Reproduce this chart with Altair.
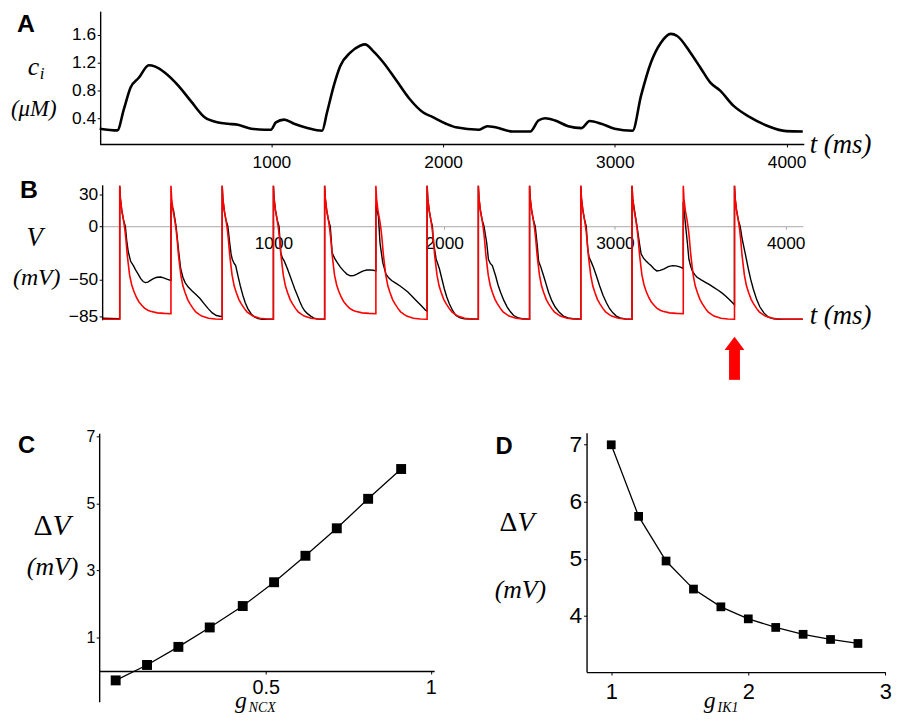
import altair as alt
import pandas as pd

W, H = 892, 709

# ---------------- panel A : calcium transient ----------------
A_T = [0, 103, 141, 180, 228, 286, 324, 382, 459, 536, 613, 690, 747, 805, 882, 959, 997,
       1026, 1074, 1132, 1209, 1295, 1324, 1363, 1401, 1459, 1516, 1545, 1594, 1652, 1728,
       1805, 1882, 1940, 2017, 2074, 2209, 2257, 2305, 2402, 2507, 2555, 2594, 2652, 2728,
       2806, 2853, 2921, 2998, 3103, 3152, 3210, 3267, 3325, 3363, 3440, 3498, 3556, 3613,
       3690, 3786, 3882, 3998, 4094]
A_C = [0.25, 0.225, 0.53, 0.84, 0.98, 1.16, 1.14, 1.05, 0.865, 0.63, 0.41, 0.34, 0.32, 0.305,
       0.25, 0.235, 0.235, 0.34, 0.38, 0.32, 0.26, 0.22, 0.485, 0.865, 1.15, 1.34, 1.44, 1.46,
       1.36, 1.2, 0.94, 0.675, 0.485, 0.415, 0.32, 0.27, 0.235, 0.285, 0.27, 0.21, 0.21, 0.367,
       0.4, 0.367, 0.285, 0.258, 0.36, 0.32, 0.25, 0.22, 0.72, 1.2, 1.48, 1.61, 1.58, 1.34,
       1.125, 0.91, 0.795, 0.58, 0.415, 0.296, 0.215, 0.21]
A_XTICKS = [1000, 2000, 3000, 4000]
A_YTICKS = [0.4, 0.8, 1.2, 1.6]

# ---------------- panel B : voltage traces ----------------
B_ONSETS = [100, 400, 700, 1000, 1300, 1600, 1900, 2200, 2500, 2800, 3100, 3400, 3700]
RED_KIND = ["part", "full", "full", "full", "part", "full", "full", "full", "full", "full",
            "part", "full", "full"]
RED_DT = [0, 4, 12, 22, 30, 36, 44, 52, 58, 70, 82, 98, 112, 130, 145, 165, 180, 220, 260, 300]
RED_FULL = [38, 26, 15, 6, -3, -12, -27, -38, -46, -56, -62, -69, -73, -77.5, -80.5, -83,
            -84.5, -86.5, -87.3, -87.5]
RED_PART = [38, 26, 15, 6, -3, -12, -27, -38, -46, -55, -61, -67, -71, -74.5, -77, -79,
            -80, -81.5, -82, -82.3]
RED_REST = -87.5
RED_END_T = 4100

BLACK_T = [0, 100,
           100, 104, 112, 122, 133, 142, 150, 164, 180, 193, 208, 222, 237, 251, 265, 280, 300, 318, 340, 357, 380, 400,
           400, 415, 430, 444, 457, 470, 483, 500, 521, 545, 570, 595, 618, 642, 666, 700,
           700, 704, 712, 722, 733, 744, 752, 759, 770, 779, 792, 806, 821, 835, 850, 870, 889, 910, 934, 1000,
           1000, 1004, 1012, 1022, 1033, 1043, 1053, 1063, 1082, 1096, 1111, 1125, 1140, 1155, 1169, 1183, 1198, 1218, 1237, 1260, 1300,
           1300, 1304, 1312, 1322, 1333, 1344, 1358, 1373, 1392, 1411, 1430, 1450, 1470, 1489, 1508, 1527, 1547, 1566, 1585, 1600,
           1600, 1615, 1624, 1640, 1659, 1675, 1692, 1716, 1740, 1765, 1789, 1813, 1837, 1865, 1891, 1900,
           1900, 1904, 1912, 1922, 1931, 1937, 1953, 1972, 1982, 2001, 2015, 2030, 2050, 2069, 2090, 2117, 2200,
           2200, 2204, 2212, 2222, 2233, 2249, 2259, 2270, 2282, 2301, 2315, 2330, 2350, 2369, 2388, 2407, 2430, 2456, 2500,
           2500, 2504, 2512, 2522, 2533, 2545, 2553, 2565, 2582, 2596, 2611, 2630, 2650, 2674, 2698, 2725, 2756, 2800,
           2800, 2804, 2812, 2822, 2832, 2840, 2848, 2862, 2875, 2891, 2910, 2930, 2950, 2969, 2988, 3008, 3030, 3060, 3100,
           3100, 3104, 3114, 3129, 3143, 3153, 3167, 3182, 3197, 3211, 3228, 3245, 3265, 3288, 3312, 3336, 3356, 3375, 3390, 3400,
           3400, 3414, 3424, 3433, 3443, 3453, 3467, 3481, 3505, 3530, 3554, 3578, 3602, 3626, 3646, 3665, 3680, 3694, 3700,
           3700, 3704, 3712, 3722, 3733, 3745, 3762, 3781, 3795, 3810, 3830, 3849, 3872, 3897, 3930, 3965, 4100]
BLACK_V = [-86.5, -87,
           38, 26, 15, 6, 0, -15, -24, -33, -37, -41, -45, -49, -52, -53, -52.5, -51, -49, -48, -47.8, -48.5, -50, -51,
           22, 15, 0, -22, -40, -48, -53, -57, -60.5, -64, -68, -73, -77.5, -81.5, -84, -85,
           38, 26, 15, 6, 0, -15.5, -26, -31, -35, -37, -46.5, -56, -65, -72, -77.5, -82.5, -85.4, -86.8, -87.5, -87.5,
           38, 26, 15, 6, 0, -25, -30, -32.6, -40, -46, -52.8, -59, -65, -71, -76, -79.5, -82, -84.5, -86.4, -87.2, -87.5,
           38, 26, 15, 6, 0, -25, -30, -34, -38.5, -42, -45, -46.6, -46.4, -45, -43.3, -42, -41.2, -41, -41.4, -42,
           20, 9, -15.5, -34, -45, -48.5, -51, -53.5, -56, -59, -62, -66, -70, -74.5, -79, -80,
           38, 26, 15, 6, 0, -15, -31, -40, -46.6, -59, -66.5, -73, -79.5, -84, -86, -87, -87.5,
           38, 26, 15, 6, 0, -15.5, -31, -35, -37, -46.6, -55, -62, -70, -76, -80.5, -84, -86, -87, -87.5,
           38, 26, 15, 6, 0, -18, -33, -38, -46.6, -54, -62, -70, -76, -81, -84.5, -86.3, -87, -87.5,
           38, 26, 15, 6, 0, -20, -29, -34, -39, -46.6, -56, -65, -72, -77.6, -81.5, -84.5, -86.2, -87.2, -87.5,
           38, 26, 15.5, 0, -15.5, -26, -30, -32.6, -35, -37, -40, -42, -41.5, -40, -38, -37, -37.3, -38, -39, -40,
           23, 0, -15.5, -31, -37.5, -42, -45.5, -48, -50.5, -52.8, -55, -57.5, -60, -62.7, -65.3, -68.3, -70.6, -73, -74,
           38, 26, 15, 6, 0, -12, -25, -40, -50, -59, -69, -76, -81.5, -85.4, -87, -87.5, -87.5]
B_XTICKS = [1000, 2000, 3000, 4000]
B_YTICKS = [30, 0, -50, -85]
ARROW_T = 3700

# ---------------- panel C / D : delta V ----------------
C_G = [0.045, 0.14, 0.235, 0.33, 0.43, 0.525, 0.62, 0.715, 0.81, 0.91]
C_DV = [-0.28, 0.18, 0.72, 1.30, 1.94, 2.65, 3.44, 4.26, 5.14, 6.03]
C_XTICKS = [0.5, 1]
C_YTICKS = [1, 3, 5, 7]
D_G = [1.0, 1.2, 1.4, 1.6, 1.8, 2.0, 2.2, 2.4, 2.6, 2.8]
D_DV = [6.99, 5.74, 4.96, 4.47, 4.16, 3.95, 3.80, 3.68, 3.59, 3.52]
D_XTICKS = [1, 2, 3]
D_YTICKS = [4, 5, 6, 7]

# ---------------- tables ----------------
assert len(BLACK_T) == len(BLACK_V)
a_df = pd.DataFrame({"t": A_T, "c": A_C})
black_df = pd.DataFrame({"t": BLACK_T, "v": BLACK_V, "i": range(len(BLACK_T))})

red_t, red_v = [0, B_ONSETS[0]], [RED_REST, RED_REST]
for onset, kind in zip(B_ONSETS, RED_KIND):
    shape = RED_FULL if kind == "full" else RED_PART
    for dt, v in zip(RED_DT, shape):
        red_t.append(onset + dt)
        red_v.append(v)
red_t.append(RED_END_T)
red_v.append(red_v[-1])
red_df = pd.DataFrame({"t": red_t, "v": red_v, "i": range(len(red_t))})
arrow_df = pd.DataFrame({"t": [ARROW_T]})
c_df = pd.DataFrame({"g": C_G, "dv": C_DV})
d_df = pd.DataFrame({"g": D_G, "dv": D_DV})


def sc(domain, rng):
    return alt.Scale(domain=domain, range=rng, nice=False, zero=False)


def axis(orient, offset, values, fmt, size, pad, color="black", width=1.4):
    return alt.Axis(orient=orient, offset=offset, values=values, format=fmt, title=None,
                    grid=False, domainColor=color, domainWidth=width, tickColor=color,
                    tickSize=3, tickWidth=1, labelFont="Liberation Sans", labelFontSize=size,
                    labelColor="black", labelPadding=pad, labelFlush=False, labelOverlap=False)


# panel A
a_xax = axis("bottom", 134 - H, A_XTICKS, "d", 17.5, 7)
a_yax = axis("left", -93, A_YTICKS, ".1f", 17.5, 1.5)
panel_a = alt.Chart(a_df).mark_line(color="black", strokeWidth=2.6, interpolate="monotone").encode(
    x=alt.X("t:Q", scale=sc([0, 4100], [92.5, 803]), axis=a_xax),
    y=alt.Y("c:Q", scale=sc([0.03, 1.936], [134, 0]), axis=a_yax),
)

# panel B
b_xs = sc([0, 4100], [95.5, 802])
b_ys = sc([-88, 39], [311.4, 175.2])
b_xax = axis("bottom", 217 - H, B_XTICKS, "d", 17.5, 5, color="#a8a8a8", width=1)
b_yax = axis("left", -95, B_YTICKS, "d", 17.5, 1.5)
bx = alt.X("t:Q", scale=b_xs, axis=b_xax)
by = alt.Y("v:Q", scale=b_ys, axis=b_yax)
b_black = alt.Chart(black_df).mark_line(color="black", strokeWidth=1.4).encode(x=bx, y=by, order="i:Q")
b_red = alt.Chart(red_df).mark_line(color="#ff0000", strokeWidth=1.6).encode(x=bx, y=by, order="i:Q")
b_shaft = alt.Chart(arrow_df).mark_rule(color="#ff0000", strokeWidth=11).encode(
    x=bx, y=alt.value(341), y2=alt.value(372))
b_head = alt.Chart(arrow_df).mark_point(shape="M-1,0.35L0,-1L1,0.35Z", filled=True, size=400,
                                        color="#ff0000", opacity=1, strokeWidth=0).encode(
    x=bx, y=alt.value(338.5))
panel_b = alt.layer(b_black, b_red, b_shaft, b_head)

# panel C
c_xax = axis("bottom", 665.8 - H, C_XTICKS, "~g", 20, 4)
c_yax = axis("left", -92, C_YTICKS, "d", 16, 1.5)
cx = alt.X("g:Q", scale=sc([-0.005, 1.01], [92, 430]), axis=c_xax)
cy = alt.Y("dv:Q", scale=sc([-0.92, 7.1], [696.9, 425.8]), axis=c_yax)
panel_c = alt.layer(
    alt.Chart(c_df).mark_line(color="black", strokeWidth=1.3).encode(x=cx, y=cy),
    alt.Chart(c_df).mark_square(color="black", size=100, opacity=1).encode(x=cx, y=cy),
)

# panel D
d_xax = axis("bottom", 666.9 - H, D_XTICKS, "d", 22, 7)
d_yax = axis("left", -583.8, D_YTICKS, "d", 23, 2)
dx = alt.X("g:Q", scale=sc([0.82, 3.0], [583.8, 885.3]), axis=d_xax)
dy = alt.Y("dv:Q", scale=sc([3.02, 7.2], [666.9, 425.4]), axis=d_yax)
panel_d = alt.layer(
    alt.Chart(d_df).mark_line(color="black", strokeWidth=1.3).encode(x=dx, y=dy),
    alt.Chart(d_df).mark_square(color="black", size=78, opacity=1).encode(x=dx, y=dy),
)


def txt(s, x, y, size, style="italic", weight="normal", font="Liberation Serif", align="left"):
    return alt.Chart().mark_text(text=s, font=font, fontSize=size, fontStyle=style,
                                 fontWeight=weight, align=align, baseline="alphabetic",
                                 color="black").encode(x=alt.value(x), y=alt.value(y))


SANS = "Liberation Sans"
texts = [
    txt("A", 9, 21, 25, style="normal", weight="bold", font=SANS),
    txt("c", 20, 64, 26),
    txt("i", 32, 68, 17),
    txt("(μM)", 26, 106, 23, align="center"),
    txt("t (ms)", 809, 143, 27),
    txt("B", 12, 189, 25, style="normal", weight="bold", font=SANS),
    txt("V", 27, 237, 27, align="center"),
    txt("(mV)", 29, 276, 24, align="center"),
    txt("t (ms)", 809, 316, 27),
    txt("C", 10, 446, 24, style="normal", weight="bold", font=SANS),
    txt("Δ", 45, 529, 30, style="normal", align="right"),
    txt("V", 45, 529, 30),
    txt("(mV)", 45, 569, 26, align="center"),
    txt("g", 235, 703, 24, align="center"),
    txt("NCX", 243, 707, 14),
    txt("D", 492, 447, 24, style="normal", weight="bold", font=SANS),
    txt("Δ", 514, 525, 28, style="normal", align="right"),
    txt("V", 514, 525, 28),
    txt("(mV)", 517, 592, 26, align="center"),
    txt("g", 708, 703, 24, align="center"),
    txt("IK1", 716, 707, 14),
]

chart = alt.layer(panel_a, panel_b, panel_c, panel_d, *texts).resolve_scale(
    x="independent", y="independent"
).properties(
    width=W, height=H, padding=0, autosize=alt.AutoSizeParams(type="none")
).configure_view(stroke=None)

chart.save("out.html", embed_options={"renderer": "svg", "actions": False})
